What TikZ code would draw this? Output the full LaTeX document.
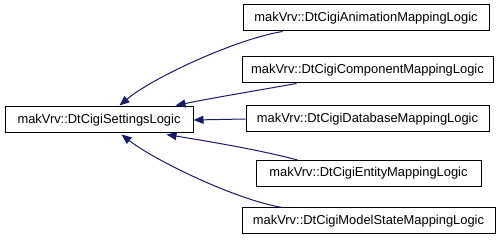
\documentclass[tikz,border=0pt]{standalone}
\usepackage{fontspec}
\setmainfont{Liberation Sans}
\usetikzlibrary{arrows.meta,calc}
\definecolor{edgeblue}{HTML}{191970}
\begin{document}
\begin{tikzpicture}[x=1pt,y=-1pt,
  cls/.style={draw=black,fill=white,line width=1pt,inner sep=0pt,font=\fontsize{12.9}{14}\selectfont,minimum height=26pt},
  inh/.style={draw=edgeblue,line width=1pt,-{Triangle[length=10pt,width=8pt]}}]
\useasboundingbox (0,0) rectangle (501,240);
\node[cls,minimum width=188pt] (base) at (99,120) {makVrv::DtCigiSettingsLogic};
\node[cls,minimum width=246pt] (anim) at (366,18) {makVrv::DtCigiAnimationMappingLogic};
\node[cls,minimum width=251pt] (comp) at (367.5,70) {makVrv::DtCigiComponentMappingLogic};
\node[cls,minimum width=243pt] (db) at (367.5,119) {makVrv::DtCigiDatabaseMappingLogic};
\node[cls,minimum width=225pt] (ent) at (368.5,173.5) {makVrv::DtCigiEntityMappingLogic};
\node[cls,minimum width=253pt] (ms) at (368.5,221) {makVrv::DtCigiModelStateMappingLogic};
\draw[inh] ($(anim.south west)+(40,0)$) .. controls (236,39) and (152,78) .. ($(base.north west)+(115,-1)$);
\draw[inh] ($(comp.south west)+(55,0)$) .. controls (260,90) and (212,98) .. ($(base.north west)+(171,-1)$);
\draw[inh] (db.west) -- (base.east);
\draw[inh] ($(ent.north west)+(42,0)$) .. controls (260,150) and (212,142) .. ($(base.south west)+(162,1)$);
\draw[inh] ($(ms.north west)+(41,0)$) .. controls (236,200) and (154,160) .. ($(base.south west)+(117,1)$);
\end{tikzpicture}
\end{document}
